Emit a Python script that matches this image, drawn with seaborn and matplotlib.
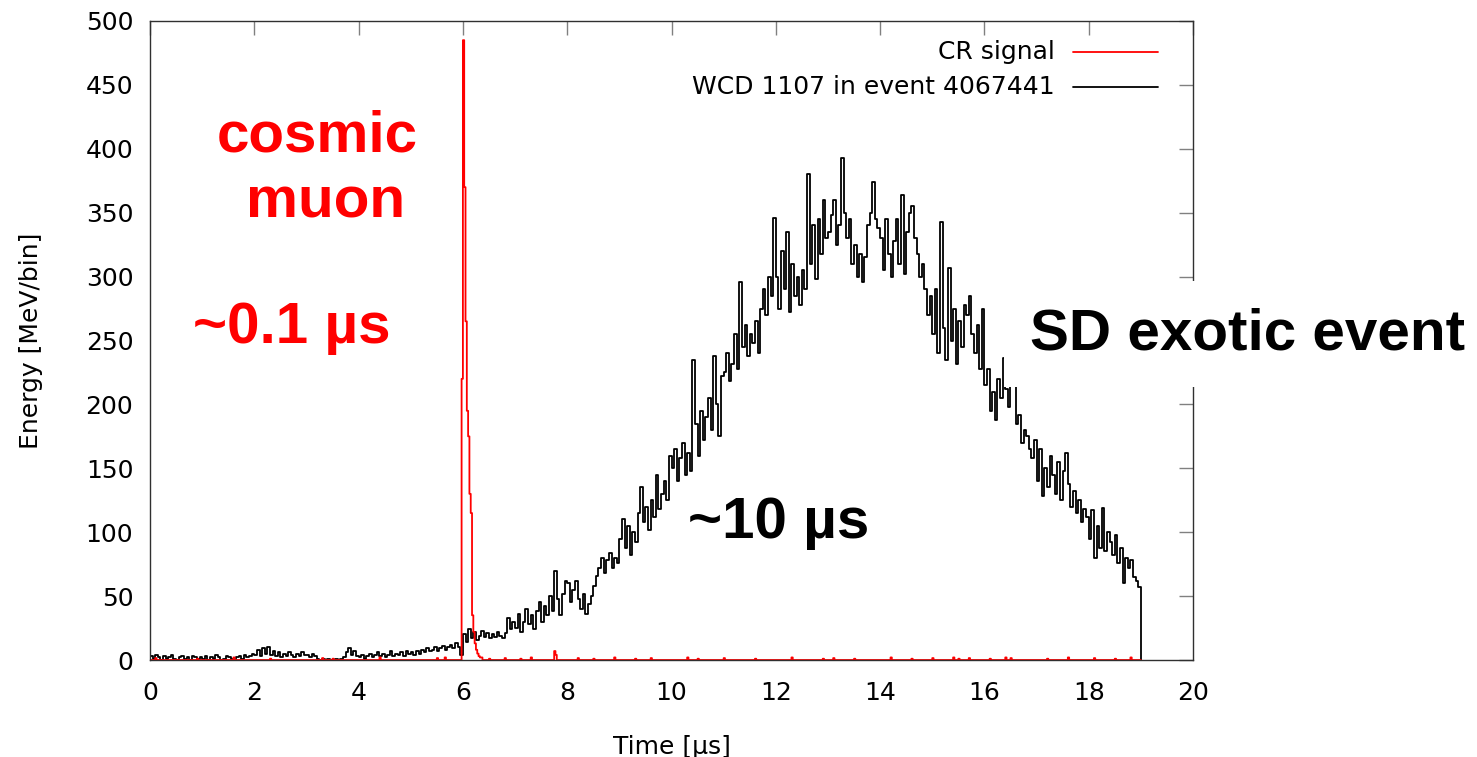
import matplotlib
matplotlib.use("Agg")
import matplotlib.pyplot as plt
import numpy as np
import pandas as pd
import seaborn as sns


#black trace: WCD 1107 signal, one row per microsecond, 0.05 us bins
#values in MeV/bin
bin_w = 0.05
b00 = [3,1,4,2,0,3,1,2,4,1,0,2,3,1,2,0,3,2,1,2]
b01 = [1,3,0,2,1,4,2,0,1,3,2,1,0,2,3,1,4,2,3,5]
b02 = [4,8,3,9,5,10,4,7,3,6,2,5,3,6,4,2,5,3,6,4]
b03 = [4,2,5,3,1,0,1,0,1,0,0,1,0,1,2,6,9,4,7,3]
b04 = [2,4,1,3,5,2,4,6,3,5,2,4,7,3,5,4,6,3,7,5]
b05 = [6,4,7,5,8,6,9,7,8,10,7,9,11,8,10,12,9,13,10,4]
b06 = [20,14,24,17,22,16,19,23,18,21,17,20,18,22,19,17,21,33,24,30]
b07 = [25,36,22,30,40,28,35,24,38,45,30,42,35,50,38,70,48,35,52,62]
b08 = [60,45,55,62,48,40,52,36,44,50,58,66,72,80,68,78,84,72,80,76]
b09 = [95,110,88,105,82,100,92,115,135,108,120,102,125,112,145,118,130,140,125,160]
b10 = [150,165,140,158,170,145,162,148,235,185,160,195,172,190,205,180,238,200,175,222]
b11 = [225,240,218,232,255,228,296,245,262,238,255,248,265,240,275,290,270,300,285,346]
b12 = [300,275,320,290,335,272,310,285,300,278,305,290,380,310,340,298,345,318,360,330]
b13 = [335,348,360,325,340,393,350,330,345,310,325,300,318,296,315,340,350,374,345,338]
b14 = [330,305,345,318,300,328,345,310,364,302,335,350,355,330,318,300,310,290,270,285]
b15 = [255,290,240,343,260,235,307,250,275,232,265,245,278,270,285,255,240,262,228,275]
b16 = [215,228,195,210,188,220,205,236,212,198,225,215,185,192,170,180,175,165,158,172]
b17 = [140,165,128,150,135,160,145,130,155,125,148,162,138,120,132,115,125,108,118,112]
b18 = [95,117,80,105,88,119,85,100,92,82,98,76,88,60,80,72,78,65,62,57]
trace_end = 19.0

#red trace: cosmic ray (muon) signal, 0.025 us bins
cr_bin_w = 0.025
cr_peak_start = 5.975
cr_peak = [220,485,370,265,195,175,130,115,35,22,13,8,5,3,2]
cr_blip_t = [0.1,0.9,1.6,2.3,3.3,3.5,4.4,5.5,5.65,6.35,6.5,6.8,7.1,7.3,7.75,7.775,8.2,8.5,
             8.9,9.3,9.6,10.3,10.5,11.0,11.6,12.3,12.9,13.1,13.5,14.2,14.6,15.0,15.4,15.5,
             15.7,16.1,16.4,16.5,17.2,17.6,18.1,18.5,18.8]
cr_blip_e = [1.5,1,2,1,1.5,1,2,1.5,2,2,1,1.5,1,2,7,4,1.5,1,2,1,1.5,2,1,1.5,1,2,1,1.5,1,2,
             1,1.5,2,1,1.5,1,2,1.5,1,2,1.5,1,2]

labels = ["CR signal", "WCD 1107 in event 4067441"]

#build step tables
wcd = np.concatenate([b00,b01,b02,b03,b04,b05,b06,b07,b08,b09,b10,b11,b12,b13,b14,b15,b16,b17,b18])
wcd_df = pd.DataFrame({"t": np.append(np.arange(len(wcd))*bin_w, trace_end),
                       "e": np.append(wcd, 0)})

n_cr = int(round(trace_end/cr_bin_w))
cr = np.zeros(n_cr)
for t, e in zip(cr_blip_t, cr_blip_e):
    cr[int(round(t/cr_bin_w))] = e
i0 = int(round(cr_peak_start/cr_bin_w))
cr[i0:i0+len(cr_peak)] = cr_peak
cr_df = pd.DataFrame({"t": np.append(np.arange(n_cr)*cr_bin_w, trace_end),
                      "e": np.append(cr, 0)})

sns.set_style("white")
plt.rcParams['font.family'] = ['DejaVu Sans']
plt.rcParams['text.color'] = 'black'

fig = plt.figure(figsize=(14.77, 7.57), dpi=100)
ax = fig.add_axes([150/1477, 97/757, 1043/1477, 639/757])

sns.lineplot(data=wcd_df, x="t", y="e", drawstyle="steps-post", estimator=None,
             color="black", lw=1.3, ax=ax, legend=False)
sns.lineplot(data=cr_df, x="t", y="e", drawstyle="steps-post", estimator=None,
             color="#ff0000", lw=1.3, ax=ax, legend=False)

ax.set_xlim(0, 20)
ax.set_ylim(0, 500)
ax.set_xticks(np.arange(0, 21, 2))
ax.set_yticks(np.arange(0, 501, 50))
ax.tick_params(direction="in", length=10, width=1, color="#808080",
               top=True, right=True, labelsize=18, labelcolor="black")
ax.tick_params(axis="y", pad=12)
ax.tick_params(axis="x", pad=15)
for s in ax.spines.values():
    s.set_color("#303030")
    s.set_linewidth(1)
ax.set_xlabel("Time [µs]", fontsize=18, labelpad=22, color="black")
ax.set_ylabel("Energy [MeV/bin]", fontsize=18, labelpad=31, color="black")

#legend drawn by hand so the labels are right aligned like gnuplot
for lab, col, yy in zip(labels, ["#ff0000", "black"], [0.9515, 0.8967]):
    ax.text(0.8677, yy, lab, transform=ax.transAxes, ha="right", va="center",
            fontsize=18, color="black")
    ax.plot([0.885, 0.9664], [yy, yy], transform=ax.transAxes, color=col, lw=1.3)

#annotations
big = dict(fontsize=42, fontweight="bold", family=["Liberation Sans", "DejaVu Sans"])
ax.text(3.20, 397.5, "cosmic", color="#ff0000", ha="center", va="baseline", **big)
ax.text(3.375, 346.6, "muon", color="#ff0000", ha="center", va="baseline", **big)
ax.text(0.82, 248, "~0.1 µs", color="#ff0000", ha="left", va="baseline", **big)
ax.text(10.32, 95.5, "~10 µs", color="black", ha="left", va="baseline", **big)
ax.text(16.87, 243.3, "SD exotic event", color="black", ha="left", va="baseline", zorder=5,
        bbox=dict(boxstyle="square,pad=0.45", facecolor="white", edgecolor="none"), **big)

fig.savefig("out.png", dpi=100)
